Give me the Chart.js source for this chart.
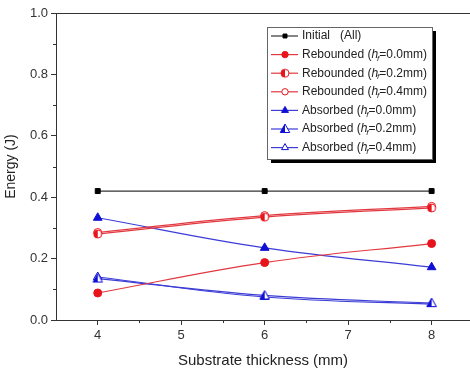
<!DOCTYPE html>
<html>
<head>
<meta charset="utf-8">
<script src="https://cdn.jsdelivr.net/npm/chart.js@4/dist/chart.umd.min.js"></script>
<style>
  html, body { margin: 0; padding: 0; background: #fff; }
  #wrap { width: 470px; height: 371px; }
</style>
</head>
<body>
<div id="wrap"><canvas id="chart" width="470" height="371"></canvas></div>
<script>
// substrate thickness (mm)
var thickness = [4, 6, 8];

// energy (J)
var initialAll = [0.42, 0.42, 0.42];
var rebounded00 = [0.088, 0.187, 0.249];
var rebounded02 = [0.280, 0.335, 0.365];
var rebounded04 = [0.285, 0.340, 0.370];
var absorbed00 = [0.333, 0.235, 0.172];
var absorbed02 = [0.135, 0.080, 0.055];
var absorbed04 = [0.140, 0.075, 0.052];

var xMajorTicks = [4, 5, 6, 7, 8];
var xMinorTicks = [4.5, 5.5, 6.5, 7.5];
var yMinorTicks = [0.1, 0.3, 0.5, 0.7, 0.9];

// legend text: prefix, then italic h_f, then suffix
var legendPrefix = ['Initial   (All)', 'Rebounded (', 'Rebounded (', 'Rebounded (', 'Absorbed (', 'Absorbed (', 'Absorbed ('];
var legendSuffix = ['', '=0.0mm)', '=0.2mm)', '=0.4mm)', '=0.0mm)', '=0.2mm)', '=0.4mm)'];

var RED = '#e8141c', RED_LINE = '#e2383f';
var BLUE = '#1010d4', BLUE_LINE = '#3c3cd6';
var FONT = '"Liberation Sans", Arial, sans-serif';

// half filled markers (left half filled)
function halfMarker(kind, color, r) {
  var s = r * 2 + 4;
  var c = document.createElement('canvas');
  c.width = s; c.height = s;
  var g = c.getContext('2d');
  var cx = s / 2, cy = s / 2;
  g.beginPath();
  if (kind === 'circle') {
    g.arc(cx, cy, r, 0, Math.PI * 2);
  } else {
    g.moveTo(cx, cy - r);
    g.lineTo(cx + r * 0.95, cy + r * 0.7);
    g.lineTo(cx - r * 0.95, cy + r * 0.7);
    g.closePath();
  }
  g.fillStyle = '#fff';
  g.fill();
  g.save();
  g.clip();
  g.fillStyle = color;
  g.fillRect(0, 0, cx, s);
  g.restore();
  g.lineWidth = 1;
  g.strokeStyle = color;
  g.stroke();
  return c;
}

function series(data, color, lineColor, style, radius, fill, tension) {
  return {
    data: data.map(function (v, i) { return { x: thickness[i], y: v }; }),
    borderColor: lineColor,
    borderWidth: 1.2,
    pointStyle: style,
    pointRadius: radius,
    pointBorderColor: color,
    pointBackgroundColor: fill,
    pointBorderWidth: 1,
    tension: tension
  };
}

var datasets = [
  series(initialAll, '#000', '#333', 'rect', 3.5, '#000', 0),
  series(rebounded00, RED, RED_LINE, 'circle', 4, RED, 0.4),
  series(rebounded02, RED, RED_LINE, halfMarker('circle', RED, 4), 4, RED, 0.4),
  series(rebounded04, RED, RED_LINE, 'circle', 4, '#fff', 0.4),
  series(absorbed00, BLUE, BLUE_LINE, 'triangle', 5, BLUE, 0.4),
  series(absorbed02, BLUE, BLUE_LINE, halfMarker('triangle', BLUE, 5), 5, BLUE, 0.4),
  series(absorbed04, BLUE, BLUE_LINE, 'triangle', 5, '#fff', 0.4)
];

var frame = {
  id: 'frame',
  afterDraw: function (chart) {
    var ctx = chart.ctx, a = chart.chartArea;
    var xs = chart.scales.x, ys = chart.scales.y;
    ctx.save();
    ctx.strokeStyle = '#333';
    ctx.lineWidth = 1;
    ctx.beginPath();
    ctx.moveTo(a.left, a.top + 0.5);
    ctx.lineTo(a.right, a.top + 0.5);
    xMinorTicks.forEach(function (v) {
      var px = Math.round(xs.getPixelForValue(v)) + 0.5;
      ctx.moveTo(px, a.bottom);
      ctx.lineTo(px, a.bottom + 3);
    });
    yMinorTicks.forEach(function (v) {
      var py = Math.round(ys.getPixelForValue(v)) + 0.5;
      ctx.moveTo(a.left, py);
      ctx.lineTo(a.left - 3, py);
    });
    ctx.stroke();

    // legend
    var bx = 267, by = 27, bw = 165, bh = 132;
    ctx.fillStyle = '#000';
    ctx.fillRect(bx + 4, by + 4, bw, bh);
    ctx.fillStyle = '#fff';
    ctx.fillRect(bx, by, bw, bh);
    ctx.strokeStyle = '#666';
    ctx.strokeRect(bx + 0.5, by + 0.5, bw, bh);

    var rowH = 18.6;
    datasets.forEach(function (ds, i) {
      var y = by + 9 + i * rowH;
      ctx.strokeStyle = ds.borderColor;
      ctx.lineWidth = 1.2;
      ctx.beginPath();
      ctx.moveTo(bx + 4, y);
      ctx.lineTo(bx + 31, y);
      ctx.stroke();
      ctx.fillStyle = ds.pointBackgroundColor;
      ctx.strokeStyle = ds.pointBorderColor;
      ctx.lineWidth = 1;
      Chart.helpers.drawPoint(ctx, {
        pointStyle: ds.pointStyle,
        radius: ds.pointRadius * 0.8,
        rotation: 0,
        borderWidth: 1
      }, bx + 18, y);

      ctx.fillStyle = '#222';
      ctx.textBaseline = 'middle';
      ctx.textAlign = 'left';
      var tx = bx + 35;
      ctx.font = '12px ' + FONT;
      ctx.fillText(legendPrefix[i], tx, y);
      tx += ctx.measureText(legendPrefix[i]).width;
      if (legendSuffix[i]) {
        ctx.font = 'italic 12px ' + FONT;
        ctx.fillText('h', tx, y);
        tx += ctx.measureText('h').width;
        ctx.font = 'italic 8px ' + FONT;
        ctx.fillText('f', tx - 1, y + 4);
        tx += ctx.measureText('f').width - 1;
        ctx.font = '12px ' + FONT;
        ctx.fillText(legendSuffix[i], tx, y);
      }
    });
    ctx.restore();
  }
};

new Chart(document.getElementById('chart'), {
  type: 'line',
  data: { datasets: datasets },
  options: {
    responsive: false,
    animation: false,
    layout: { autoPadding: false, padding: { top: 13, right: 0, left: 0, bottom: 0 } },
    plugins: { legend: { display: false }, tooltip: { enabled: false } },
    scales: {
      x: {
        type: 'linear',
        min: 3.5,
        max: 8.46,
        afterBuildTicks: function (s) { s.ticks = xMajorTicks.map(function (v) { return { value: v }; }); },
        afterFit: function (s) { s.height = 51; },
        grid: { drawOnChartArea: false, drawTicks: true, tickLength: 5, color: '#333' },
        border: { display: true, color: '#333', width: 1 },
        ticks: { color: '#333', font: { family: FONT, size: 13 }, padding: 3, maxRotation: 0,
                 callback: function (v) { return v; } },
        title: { display: true, text: 'Substrate thickness (mm)', color: '#222',
                 font: { family: FONT, size: 15 }, padding: { top: 2, bottom: 1 } }
      },
      y: {
        min: 0,
        max: 1,
        ticks: { stepSize: 0.2, color: '#333', font: { family: FONT, size: 13 }, padding: 3,
                 callback: function (v) { return v.toFixed(1); } },
        afterFit: function (s) { s.width = 56; },
        grid: { drawOnChartArea: false, drawTicks: true, tickLength: 5, color: '#333' },
        border: { display: true, color: '#333', width: 1 },
        title: { display: true, text: 'Energy (J)', color: '#222',
                 font: { family: FONT, size: 14 }, padding: { top: 3, bottom: 2 } }
      }
    }
  },
  plugins: [frame]
});
</script>
</body>
</html>
